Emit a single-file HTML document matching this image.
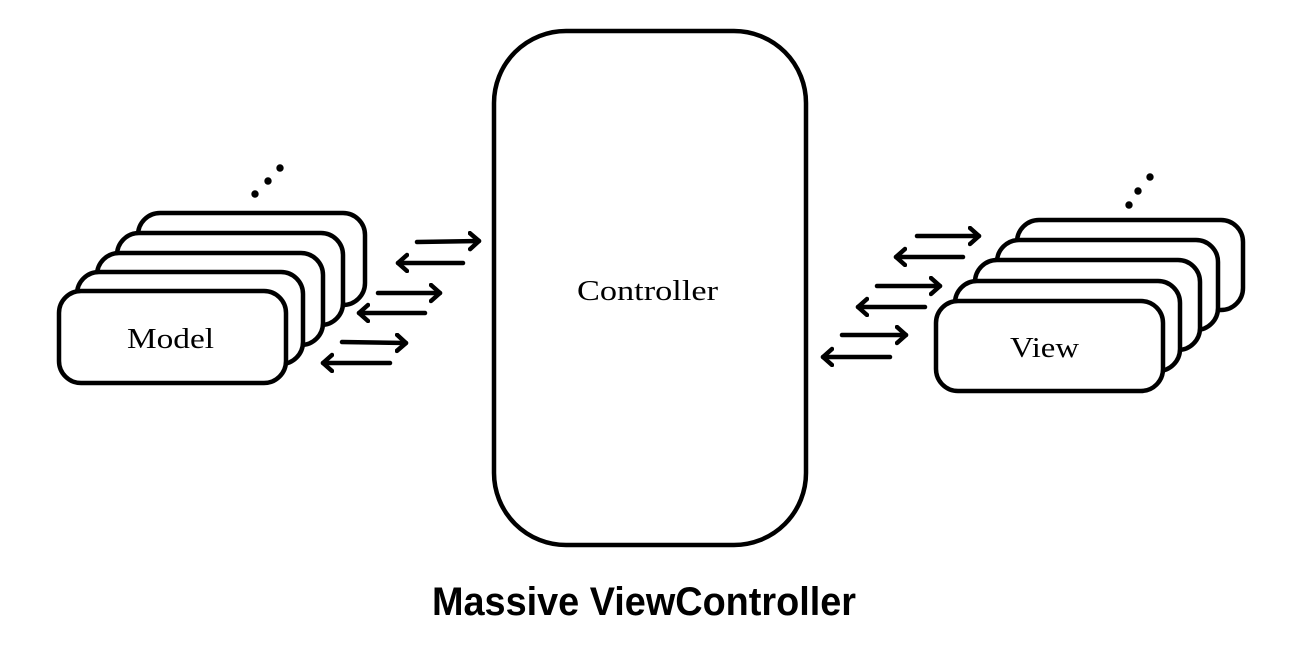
<!DOCTYPE html>
<html><head><meta charset="utf-8"><style>html,body{margin:0;padding:0;background:#fff;}svg{display:block}</style></head>
<body>
<svg width="1299" height="650" viewBox="0 0 1299 650" xmlns="http://www.w3.org/2000/svg">
<defs>
<marker id="ah" markerWidth="14" markerHeight="22" refX="11" refY="10" orient="auto" markerUnits="userSpaceOnUse">
<path d="M2,2 L11,10 L2,18" fill="none" stroke="#000" stroke-width="4.5" stroke-linecap="round" stroke-linejoin="round"/>
</marker>
</defs>
<g fill="#fff" stroke="#000" stroke-width="4.5">
<rect x="138" y="213" width="227" height="92" rx="22"/>
<rect x="117" y="233" width="226" height="92" rx="22"/>
<rect x="97" y="253" width="226" height="92" rx="22"/>
<rect x="77" y="272" width="226" height="92" rx="22"/>
<rect x="59" y="291" width="227" height="92" rx="22"/>

<rect x="1017" y="220" width="226" height="90" rx="22"/>
<rect x="997" y="240" width="221" height="90" rx="22"/>
<rect x="975" y="260" width="225" height="90" rx="22"/>
<rect x="955" y="281" width="225" height="90" rx="22"/>
<rect x="936" y="301" width="227" height="90" rx="22"/>

<rect x="494" y="31" width="312" height="514" rx="72"/>
</g>
<g stroke="#000" stroke-width="4.5" stroke-linecap="round" fill="none" marker-end="url(#ah)">
<line x1="417" y1="242" x2="479" y2="241"/>
<line x1="463" y1="263" x2="398" y2="263"/>
<line x1="378" y1="293" x2="440" y2="293"/>
<line x1="425" y1="313" x2="359" y2="313"/>
<line x1="342" y1="342" x2="406" y2="343"/>
<line x1="390" y1="363" x2="323" y2="363"/>

<line x1="917" y1="236" x2="979" y2="236"/>
<line x1="963" y1="257" x2="896" y2="257"/>
<line x1="877" y1="286" x2="940" y2="286"/>
<line x1="925" y1="307" x2="858" y2="307"/>
<line x1="842" y1="335" x2="906" y2="335"/>
<line x1="890" y1="357" x2="823" y2="357"/>
</g>
<g fill="#000">
<circle cx="255" cy="194" r="3.7"/><circle cx="268" cy="181" r="3.7"/><circle cx="280" cy="168" r="3.7"/>
<circle cx="1129" cy="205" r="3.7"/><circle cx="1138" cy="191" r="3.7"/><circle cx="1150" cy="177" r="3.7"/>
</g>
<g font-family="'Liberation Serif', serif" font-size="29" fill="#000">
<text x="127" y="348" textLength="87" lengthAdjust="spacingAndGlyphs">Model</text>
<text x="577" y="300" textLength="141" lengthAdjust="spacingAndGlyphs">Controller</text>
<text x="1010" y="357" textLength="69" lengthAdjust="spacingAndGlyphs">View</text>
</g>
<text x="432" y="615" font-family="'Liberation Sans', sans-serif" font-weight="bold" font-size="40" textLength="424" lengthAdjust="spacingAndGlyphs">Massive ViewController</text>
</svg>
</body></html>
